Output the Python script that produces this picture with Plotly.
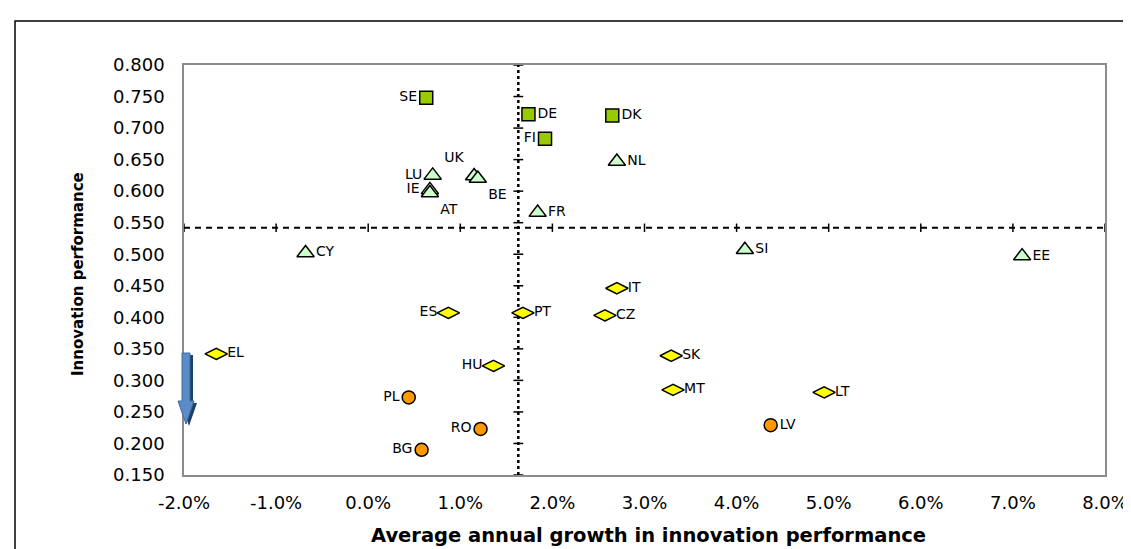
"""Innovation performance vs. average annual growth, EU member states."""

import plotly.graph_objects as go

# leaders (green squares)
leader_codes = ["SE", "DE", "DK", "FI"]
leader_growth = [0.63, 1.74, 2.65, 1.92]
leader_perf = [0.748, 0.722, 0.720, 0.683]

# followers (light green triangles)
follower_codes = ["LU", "UK", "BE", "IE", "AT", "NL", "FR", "CY", "SI", "EE"]
follower_growth = [0.70, 1.15, 1.19, 0.67, 0.67, 2.70, 1.84, -0.68, 4.09, 7.10]
follower_perf = [0.625, 0.624, 0.620, 0.602, 0.597, 0.647, 0.566, 0.502, 0.507, 0.497]

# moderate innovators (yellow diamonds)
moderate_codes = ["ES", "PT", "EL", "HU", "IT", "CZ", "SK", "MT", "LT"]
moderate_growth = [0.87, 1.68, -1.65, 1.36, 2.70, 2.57, 3.29, 3.31, 4.95]
moderate_perf = [0.407, 0.407, 0.342, 0.323, 0.446, 0.403, 0.339, 0.285, 0.281]

# modest innovators (orange circles)
modest_codes = ["PL", "RO", "BG", "LV"]
modest_growth = [0.44, 1.22, 0.58, 4.37]
modest_perf = [0.273, 0.223, 0.190, 0.229]

# EU averages used as the quadrant split
eu_growth = 1.63
eu_perf = 0.542

x_ticks = [-2, -1, 0, 1, 2, 3, 4, 5, 6, 7, 8]
x_ticktext = [f"{v:.1f}%" for v in x_ticks]
y_ticks = [0.15, 0.20, 0.25, 0.30, 0.35, 0.40, 0.45, 0.50, 0.55, 0.60, 0.65, 0.70, 0.75, 0.80]

FONT = "DejaVu Sans, Arial, sans-serif"

W, H = 1131, 549
L, R, T, B = 176, 34, 57, 82


def px(x):
    return (x - L) / (W - L - R)


def py(y):
    return (H - B - y) / (H - T - B)


fig = go.Figure()

# quadrant lines
fig.add_trace(go.Scatter(
    x=[x_ticks[0], x_ticks[-1]], y=[eu_perf, eu_perf],
    mode="lines", line=dict(color="black", width=2, dash="6px,5px"),
    hoverinfo="skip", showlegend=False,
))
fig.add_trace(go.Scatter(
    x=x_ticks, y=[eu_perf] * len(x_ticks),
    mode="markers", marker=dict(symbol="line-ns", size=6, line=dict(color="black", width=1.5)),
    hoverinfo="skip", showlegend=False,
))
fig.add_trace(go.Scatter(
    x=[eu_growth, eu_growth], y=[y_ticks[0], y_ticks[-1]],
    mode="lines", line=dict(color="black", width=2.5, dash="3px,3px"),
    hoverinfo="skip", showlegend=False,
))
fig.add_trace(go.Scatter(
    x=[eu_growth] * len(y_ticks), y=y_ticks,
    mode="markers", marker=dict(symbol="line-ew", size=7, line=dict(color="black", width=1.5)),
    hoverinfo="skip", showlegend=False,
))


def add_group(codes, xs, ys, positions, symbol, color, size):
    fig.add_trace(go.Scatter(
        x=xs, y=ys, mode="markers+text",
        text=codes, textposition=positions,
        textfont=dict(family=FONT, size=14, color="black"),
        marker=dict(symbol=symbol, color=color, size=size, line=dict(color="black", width=1.5)),
        hovertemplate="%{text}: %{x:.2f}%, %{y:.3f}<extra></extra>",
        showlegend=False, cliponaxis=False,
    ))


add_group(leader_codes, leader_growth, leader_perf,
          ["middle left", "middle right", "middle right", "middle left"],
          "square", "#99CC00", 13)
add_group(follower_codes, follower_growth, follower_perf,
          ["middle left", "top left", "bottom right", "middle left", "bottom right",
           "middle right", "middle right", "middle right", "middle right", "middle right"],
          "triangle-up", "#CCFFCC", 15)
add_group(moderate_codes, moderate_growth, moderate_perf,
          ["middle left", "middle right", "middle right", "middle left", "middle right",
           "middle right", "middle right", "middle right", "middle right"],
          "diamond-wide", "#FFFF00", 16)
add_group(modest_codes, modest_growth, modest_perf,
          ["middle left", "middle left", "middle left", "middle right"],
          "circle", "#FF9900", 13)

# blue "down" arrow next to the y axis (with a darker shadow), plus the outer frame
def arrow_path(dx, dy):
    pts = [(174, 345), (182, 345), (182, 393), (186, 393), (178, 416), (170, 393), (174, 393)]
    return "M " + " L ".join(f"{px(x + dx)},{py(y + dy)}" for x, y in pts) + " Z"


fig.add_shape(type="path", path=arrow_path(3, 2), xref="paper", yref="paper",
              fillcolor="#1F3F66", line=dict(width=0))
fig.add_shape(type="path", path=arrow_path(0, 0), xref="paper", yref="paper",
              fillcolor="#5B8CC8", line=dict(color="#3A6AA5", width=1))
fig.add_shape(type="rect", xref="paper", yref="paper",
              x0=px(7), y0=py(H + 20), x1=px(W + 20), y1=py(13),
              line=dict(color="black", width=1.5), fillcolor="rgba(0,0,0,0)", layer="below")

fig.add_annotation(
    text="<b>Average annual growth in innovation performance</b>",
    xref="paper", yref="paper", x=px(640), y=py(527), xanchor="center", yanchor="middle",
    showarrow=False, font=dict(family=FONT, size=19.5, color="black"),
)
fig.add_annotation(
    text="<b>Innovation performance</b>", textangle=-90,
    xref="paper", yref="paper", x=px(70), y=py(266), xanchor="center", yanchor="middle",
    showarrow=False, font=dict(family=FONT, size=15, color="black"),
)

fig.update_layout(
    width=W, height=H,
    margin=dict(l=L, r=R, t=T, b=B),
    plot_bgcolor="white", paper_bgcolor="white",
    font=dict(family=FONT, size=18, color="black"),
    xaxis=dict(
        range=[x_ticks[0], x_ticks[-1]], tickvals=x_ticks, ticktext=x_ticktext,
        showgrid=False, zeroline=False, showline=True, linecolor="#8C8C8C", linewidth=1.5,
        mirror=True, ticks="outside", ticklen=11, tickcolor="rgba(0,0,0,0)",
        tickfont=dict(size=18),
    ),
    yaxis=dict(
        range=[y_ticks[0], y_ticks[-1]], tickvals=y_ticks, tickformat=".3f",
        showgrid=False, zeroline=False, showline=True, linecolor="#8C8C8C", linewidth=1.5,
        mirror=True, ticks="outside", ticklen=14, tickcolor="rgba(0,0,0,0)",
        tickfont=dict(size=18),
    ),
)

fig.write_html("out.html")
